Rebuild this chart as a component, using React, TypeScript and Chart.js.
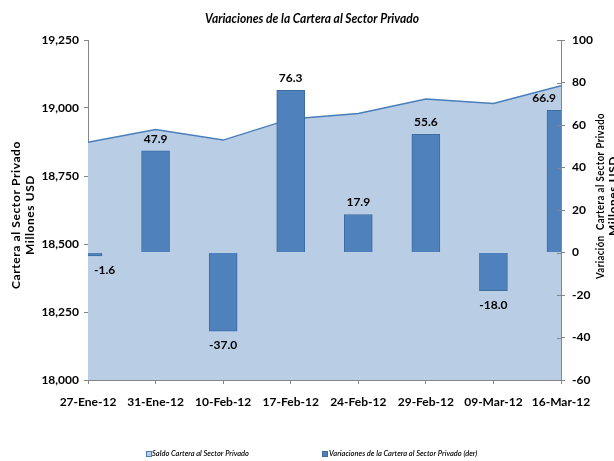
import React, { useEffect, useRef } from "react";
import { Chart, registerables } from "chart.js";

Chart.register(...registerables);

const categories = ["27-Ene-12", "31-Ene-12", "10-Feb-12", "17-Feb-12", "24-Feb-12", "29-Feb-12", "09-Mar-12", "16-Mar-12"];
const saldo = [18874, 18921, 18882, 18960, 18980, 19033, 19017, 19082];
const variaciones = [-1.6, 47.9, -37.0, 76.3, 17.9, 55.6, -18.0, 66.9];
const leftRange = [18000, 19250];
const leftStep = 250;
const rightRange = [-60, 100];
const rightStep = 20;
const chartTitle = "Variaciones de la Cartera al Sector Privado";
const saldoLabel = "Saldo Cartera al Sector Privado";
const variacionesLabel = "Variaciones de la Cartera al Sector Privado (der)";
const leftTitle = ["Cartera al Sector Privado", "Millones USD"];
const rightTitle = ["Variación  Cartera al Sector Privado", "Millones USD"];

const FONT = "Lato, 'Open Sans', sans-serif";
const AXIS_GRAY = "#868686";
const AREA_FILL = "#b9cde5";
const AREA_LINE = "#4a7ebb";
const BAR_FILL = "#4f81bd";
const BAR_BORDER = "#3d6ca3";

const decorPlugin = {
  id: "decor",
  afterDatasetsDraw(chart: any) {
    const ctx = chart.ctx as CanvasRenderingContext2D;
    const area = chart.chartArea;
    const meta = chart.getDatasetMeta(1);
    ctx.save();
    ctx.font = `bold 12px ${FONT}`;
    ctx.fillStyle = "#000";
    ctx.textAlign = "center";
    ctx.textBaseline = "middle";
    meta.data.forEach((el: any, i: number) => {
      const v = variaciones[i];
      const txt = v.toFixed(1);
      const w = ctx.measureText(txt).width;
      const x = Math.min(Math.max(el.x, area.left + w / 2 + 6), area.right - w / 2 - 5);
      const y = v >= 0 ? el.y - 12 : el.y + 14;
      ctx.fillText(txt, x, y);
    });
    ctx.restore();
  },
  afterDraw(chart: any) {
    const ctx = chart.ctx as CanvasRenderingContext2D;
    const area = chart.chartArea;
    ctx.save();
    ctx.fillStyle = "#000";
    ctx.font = `italic bold 14px ${FONT}`;
    ctx.textAlign = "center";
    ctx.textBaseline = "middle";
    ctx.fillText(chartTitle, 312, 18, 214);

    // inward ticks on right axis
    const y1 = chart.scales.y1;
    ctx.strokeStyle = AXIS_GRAY;
    ctx.lineWidth = 1;
    y1.ticks.forEach((t: any) => {
      const py = Math.round(y1.getPixelForValue(t.value)) + 0.5;
      ctx.beginPath();
      ctx.moveTo(area.right - 4, py);
      ctx.lineTo(area.right, py);
      ctx.stroke();
    });

    // axis titles
    const drawRot = (lines: string[], xs: number[], cy: number, maxW: number[]) => {
      lines.forEach((line, i) => {
        ctx.save();
        ctx.font = `700 12px ${FONT}`;
        (ctx as any).letterSpacing = "0.6px";
        ctx.fillStyle = "#000";
        ctx.translate(xs[i], cy);
        ctx.rotate(-Math.PI / 2);
        ctx.textAlign = "center";
        ctx.textBaseline = "middle";
        ctx.fillText(line, 0, 0, maxW[i]);
        ctx.restore();
      });
    };
    drawRot(leftTitle, [16, 30], 215, [150, 80]);
    drawRot(rightTitle, [600, 613], 196, [166, 80]);

    // legend
    const ly = 454;
    ctx.font = `italic 600 7.5px ${FONT}`;
    ctx.textAlign = "left";
    ctx.textBaseline = "middle";
    ctx.fillStyle = AREA_FILL;
    ctx.fillRect(146, ly - 3, 5, 5);
    ctx.strokeStyle = AREA_LINE;
    ctx.strokeRect(146.5, ly - 2.5, 5, 5);
    ctx.fillStyle = "#000";
    ctx.fillText(saldoLabel, 152, ly, 97);
    ctx.fillStyle = BAR_FILL;
    ctx.fillRect(322, ly - 3, 6, 6);
    ctx.strokeStyle = BAR_BORDER;
    ctx.strokeRect(322.5, ly - 2.5, 5, 5);
    ctx.fillStyle = "#000";
    ctx.fillText(variacionesLabel, 329, ly, 149);
    ctx.restore();
  },
};

export default function App() {
  const ref = useRef<HTMLCanvasElement>(null);
  useEffect(() => {
    document.body.style.margin = "0";
    const chart = new Chart(ref.current!, {
      type: "bar",
      data: {
        labels: categories,
        datasets: [
          {
            type: "line",
            label: saldoLabel,
            data: saldo,
            yAxisID: "y",
            borderColor: AREA_LINE,
            borderWidth: 1.5,
            backgroundColor: AREA_FILL,
            fill: "start",
            pointRadius: 0,
            tension: 0,
            order: 2,
          } as any,
          {
            type: "bar",
            label: variacionesLabel,
            data: variaciones,
            yAxisID: "y1",
            backgroundColor: BAR_FILL,
            borderColor: BAR_BORDER,
            borderWidth: 1,
            barThickness: 28,
            clip: 0,
            order: 1,
          } as any,
        ],
      },
      options: {
        responsive: false,
        animation: false,
        layout: { padding: { top: 40, left: 0, right: 0, bottom: 0 } },
        plugins: {
          legend: { display: false },
          title: { display: false },
          tooltip: { enabled: false },
        },
        scales: {
          x: {
            offset: false,
            grid: { display: true, offset: false, drawOnChartArea: false, drawTicks: true, tickLength: 4, color: AXIS_GRAY },
            border: { color: AXIS_GRAY },
            ticks: {
              font: { family: FONT, weight: "bold", size: 12 },
              color: "#000",
              padding: 11,
              maxRotation: 0,
              autoSkip: false,
            },
            afterFit: (s: any) => {
              s.height = 81;
            },
          },
          y: {
            position: "left",
            min: leftRange[0],
            max: leftRange[1],
            grid: { drawOnChartArea: false, tickLength: 4, color: AXIS_GRAY },
            border: { color: AXIS_GRAY },
            ticks: {
              stepSize: leftStep,
              font: { family: FONT, weight: "bold", size: 12 },
              color: "#000",
              padding: 5,
              callback: (v: any) => Number(v).toLocaleString("en-US"),
            },
            afterFit: (s: any) => {
              s.width = 88;
            },
          },
          y1: {
            position: "right",
            min: rightRange[0],
            max: rightRange[1],
            grid: { drawOnChartArea: false, tickLength: 4, color: AXIS_GRAY },
            border: { color: AXIS_GRAY },
            ticks: {
              stepSize: rightStep,
              font: { family: FONT, weight: "bold", size: 12 },
              color: "#000",
              padding: 7,
              callback: (v: any) => String(v),
            },
            afterFit: (s: any) => {
              s.width = 53;
            },
          },
        },
      } as any,
      plugins: [decorPlugin],
    });
    return () => chart.destroy();
  }, []);
  return <canvas ref={ref} width={614} height={461} style={{ display: "block", width: 614, height: 461 }} />;
}
